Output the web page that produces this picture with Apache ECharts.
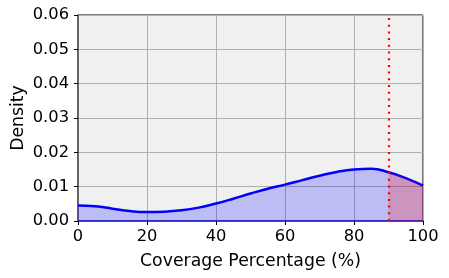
<!DOCTYPE html>
<html>
<head>
<meta charset="utf-8">
<script src="https://cdn.jsdelivr.net/npm/echarts@6/dist/echarts.min.js"></script>
<style>html,body{margin:0;padding:0;background:#fff}#c{width:449px;height:278px}</style>
</head>
<body>
<div id="c"></div>
<script>
var coverage = [0,5,10,15,20,25,30,35,40,45,50,55,60,65,70,75,80,85,90,95,100];
var density = [0.0045,0.0043,0.0036,0.0029,0.0026,0.0027,0.0031,0.0039,0.0051,0.0065,0.0080,0.0094,0.0106,0.0119,0.0132,0.0143,0.0150,0.0152,0.0142,0.0125,0.0103];
var threshold = 90;
var xTicks = [0,20,40,60,80,100];
var yTicks = [0,0.01,0.02,0.03,0.04,0.05,0.06];

var allPts = coverage.map(function(x,i){return [x,density[i]];});
var tailPts = allPts.filter(function(p){return p[0]>=threshold;});

var font = 'DejaVu Sans';
var chart = echarts.init(document.getElementById('c'), null, {renderer:'canvas'});
chart.setOption({
  animation:false,
  grid:{left:78,right:26,top:15,bottom:57,show:true,backgroundColor:'#f0f0f0',borderColor:'#000',borderWidth:1,containLabel:false,outerBoundsMode:'none'},
  xAxis:{type:'value',min:xTicks[0],max:xTicks[xTicks.length-1],interval:20,
    name:'Coverage Percentage (%)',nameLocation:'middle',nameGap:32,nameMoveOverlap:false,
    nameTextStyle:{fontFamily:font,fontSize:17.3,color:'#000'},
    axisLine:{lineStyle:{color:'#2020d8',width:1.5}},
    axisTick:{show:true,length:4,lineStyle:{color:'#000'}},
    axisLabel:{fontFamily:font,fontSize:16.3,color:'#000',margin:8},
    splitLine:{show:true,lineStyle:{color:'#b0b0b0',width:1}}},
  yAxis:{type:'value',min:yTicks[0],max:yTicks[yTicks.length-1],interval:0.01,
    name:'Density',nameLocation:'middle',nameGap:51,nameMoveOverlap:false,
    nameTextStyle:{fontFamily:font,fontSize:17.3,color:'#000'},
    axisLine:{show:true,lineStyle:{color:'#555',width:1.5}},
    axisTick:{show:true,length:4,lineStyle:{color:'#000'}},
    axisLabel:{fontFamily:font,fontSize:16.3,color:'#000',margin:9,formatter:function(v){return v.toFixed(2);}},
    splitLine:{show:true,lineStyle:{color:'#b0b0b0',width:1}}},
  series:[
    {type:'line',data:allPts,smooth:true,symbol:'none',
     lineStyle:{color:'#0000ff',width:2.5},
     areaStyle:{color:'rgba(0,0,255,0.3)'},z:2,
     markLine:{silent:true,symbol:'none',label:{show:false},
       lineStyle:{color:'#ff0000',width:2.2,type:[2,4.7]},
       data:[{xAxis:threshold}]}},
    {type:'line',data:tailPts,smooth:true,symbol:'none',
     lineStyle:{width:0},
     areaStyle:{color:'rgba(255,0,0,0.3)'},z:3}
  ]
});
</script>
</body>
</html>
